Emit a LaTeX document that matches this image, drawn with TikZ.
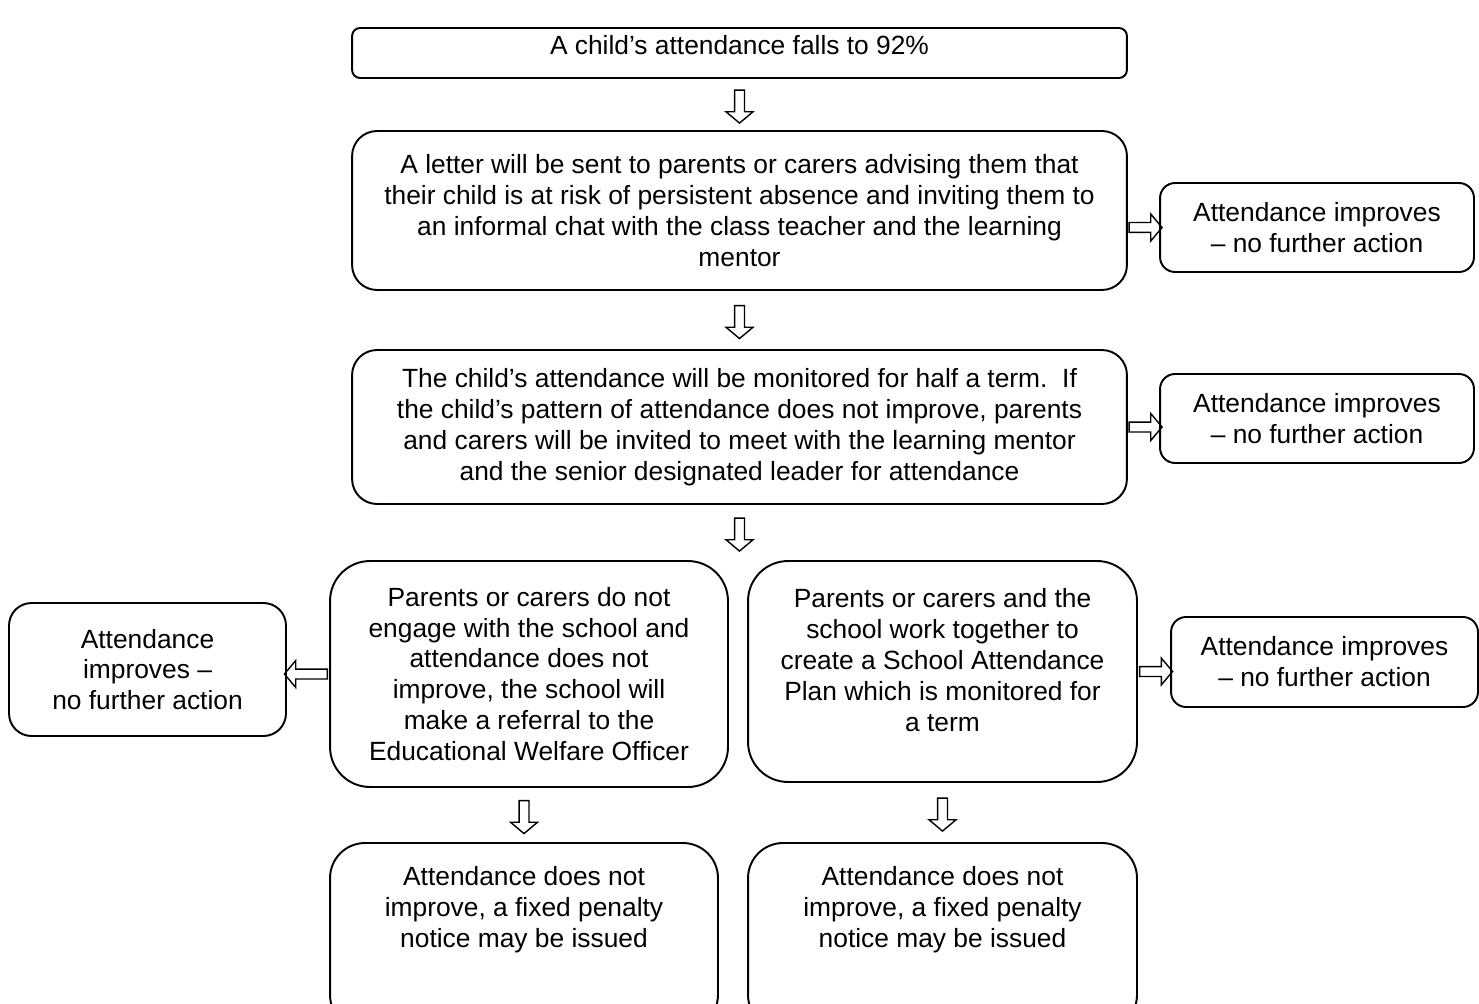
\documentclass[tikz,border=0pt]{standalone}
\usepackage{fontspec}
\setmainfont{Liberation Sans}
\usetikzlibrary{shapes.arrows}
\tikzset{
  box/.style = {
    draw,
    line width=1.1pt,
    align=center,
    inner sep=2pt,
    font=\fontsize{15}{17.6}\selectfont
  },
  blk/.style = {draw, single arrow, line width=0.8pt, inner xsep=0pt, inner ysep=0.085cm,
    minimum height=0.66cm, minimum width=0.52cm,
    single arrow head extend=0.17cm, single arrow tip angle=100,
    sloped, allow upside down} % hollow block arrow
}
% text pinned to the top of a fixed-height box
\newcommand{\toptext}[4]{\parbox[c][#1][t]{#2}{\vspace*{#3}\centering #4}}

\begin{document}
\begin{tikzpicture}[x=0.02cm, y=-0.02cm]
\useasboundingbox (0,0) rectangle (1479,1003);
\clip (0,0) rectangle (1479,1003);
\node[box, inner sep=0pt, minimum width=15.5cm, minimum height=1cm, rounded corners=0.16cm] (fall) at (739.5,53)
  {\toptext{1cm}{15.4cm}{0.15cm}{A child’s attendance falls to 92\%}};
\node[box, minimum width=15.5cm, minimum height=3.18cm, rounded corners=0.5cm] (letter) at (739.5,210.5)
  {A letter will be sent to parents or carers advising them that\\their child is at risk of persistent absence and inviting them to\\an informal chat with the class teacher and the learning\\mentor};
\node[box, minimum width=15.5cm, minimum height=3.08cm, rounded corners=0.5cm] (monitor) at (739.5,427)
  {The child’s attendance will be monitored for half a term.\ \ If\\the child’s pattern of attendance does not improve, parents\\and carers will be invited to meet with the learning mentor\\and the senior designated leader for attendance};
\node[box, minimum width=6.28cm, minimum height=1.78cm, rounded corners=0.3cm] (okA) at (1317,227.5)
  {Attendance improves\\– no further action};
\node[box, minimum width=6.28cm, minimum height=1.78cm, rounded corners=0.3cm] (okB) at (1317,418.5)
  {Attendance improves\\– no further action};
\node[box, minimum width=7.96cm, minimum height=4.52cm, rounded corners=0.8cm] (noengage) at (529,674)
  {Parents or carers do not\\engage with the school and\\attendance does not\\improve, the school will\\make a referral to the\\Educational Welfare Officer};
\node[box, inner sep=0pt, minimum width=7.78cm, minimum height=4.42cm, rounded corners=0.8cm] (plan) at (942.5,671.5)
  {\toptext{4.42cm}{7.6cm}{0.55cm}{Parents or carers and the\\school work together to\\create a School Attendance\\Plan which is monitored for\\a term}};
\node[box, minimum width=5.54cm, minimum height=2.66cm, rounded corners=0.45cm] (okE) at (147.5,669.5)
  {Attendance\\improves –\\no further action};
\node[box, minimum width=6.14cm, minimum height=1.8cm, rounded corners=0.3cm] (okF) at (1324.5,662)
  {Attendance improves\\– no further action};
\node[box, inner sep=0pt, minimum width=7.76cm, minimum height=3.74cm, rounded corners=0.7cm] (fpnL) at (524,936.5)
  {\toptext{3.74cm}{7.6cm}{0.47cm}{Attendance does not\\improve, a fixed penalty\\notice may be issued}};
\node[box, inner sep=0pt, minimum width=7.78cm, minimum height=3.74cm, rounded corners=0.7cm] (fpnR) at (942.5,936.5)
  {\toptext{3.74cm}{7.6cm}{0.47cm}{Attendance does not\\improve, a fixed penalty\\notice may be issued}};

% block arrows
\path (fall) -- (letter) node[midway, blk] {};
\path (letter) -- (monitor) node[midway, blk] {};
\path (monitor.south) -- (monitor.south |- noengage.north) node[midway, blk] {};
\path (fpnL.north |- noengage.south) -- (fpnL.north) node[midway, blk] {};
\path (plan.south) -- (plan.south |- fpnR.north) node[midway, blk] {};
\path (letter.east |- okA) -- (okA.west) node[midway, blk] {};
\path (monitor.east) -- (monitor.east -| okB.west) node[midway, blk] {};
\path (plan.east) -- (plan.east -| okF.west) node[midway, blk] {};
\path (noengage.west) -- (noengage.west -| okE.east) node[midway, blk, minimum height=0.86cm] {};
\end{tikzpicture}
\end{document}
